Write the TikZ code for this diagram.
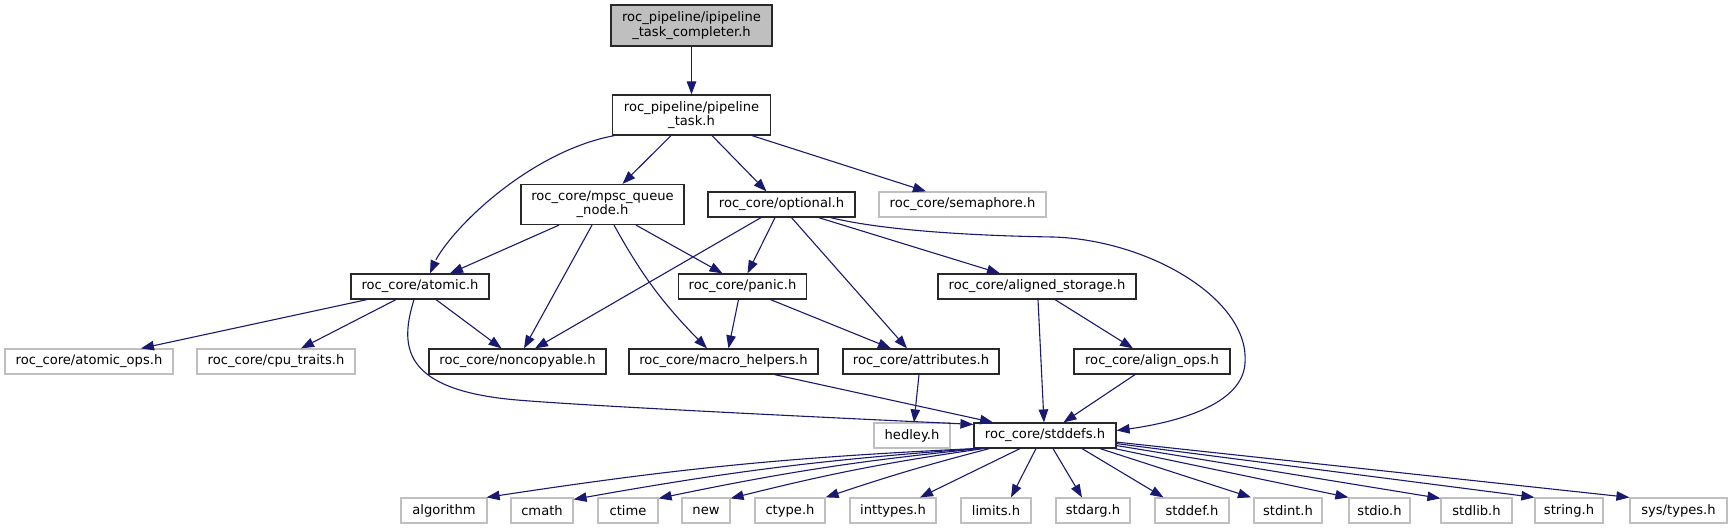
\documentclass[tikz,border=0pt]{standalone}
\usepackage{fontspec}
\setmainfont{DejaVu Sans}
\usetikzlibrary{arrows.meta,bending}
\definecolor{edgeblue}{RGB}{25,25,112}
\definecolor{lgray}{RGB}{191,191,191}
\definecolor{dgray}{RGB}{40,40,40}
\definecolor{topfill}{RGB}{191,191,191}
\newcommand{\nfont}{\fontsize{13.1}{14.2}\selectfont}
\begin{document}
\begin{tikzpicture}[x=1pt,y=-1pt,
  nb/.style={draw=dgray,line width=1.2pt,fill=white,inner sep=0pt,minimum height=25pt,align=center,font=\nfont,text=black},
  lb/.style={nb,draw=lgray},
  tb/.style={nb,fill=topfill,draw=dgray},
  dep/.style={draw=edgeblue,line width=1.1pt,-{Triangle[length=13pt,width=9.5pt]}}]
\useasboundingbox (0,0) rectangle (1732,529);

% nodes
\node[tb,minimum width=161pt,minimum height=41pt] (top) at (691.5,25.5) {roc\_pipeline/ipipeline\\\_task\_completer.h};
\node[nb,minimum width=158pt,minimum height=40pt] (pt) at (691.5,115) {roc\_pipeline/pipeline\\\_task.h};
\node[nb,minimum width=163pt,minimum height=40pt] (mpsc) at (602.5,204.5) {roc\_core/mpsc\_queue\\\_node.h};
\node[nb,minimum width=147pt] (opt) at (781.5,204.5) {roc\_core/optional.h};
\node[lb,minimum width=167pt] (sem) at (962.5,204.5) {roc\_core/semaphore.h};

\node[nb,minimum width=138pt] (atomic) at (420,286.5) {roc\_core/atomic.h};
\node[nb,minimum width=128pt] (panic) at (742.5,286.5) {roc\_core/panic.h};
\node[nb,minimum width=198pt] (alst) at (1037,286.5) {roc\_core/aligned\_storage.h};

\node[lb,minimum width=168pt] (aops) at (89,361.5) {roc\_core/atomic\_ops.h};
\node[lb,minimum width=158pt] (cpu) at (276,361.5) {roc\_core/cpu\_traits.h};
\node[nb,minimum width=177pt] (nonc) at (517.5,361.5) {roc\_core/noncopyable.h};
\node[nb,minimum width=189pt] (macro) at (723.5,361.5) {roc\_core/macro\_helpers.h};
\node[nb,minimum width=156pt] (attr) at (921,361.5) {roc\_core/attributes.h};
\node[nb,minimum width=156pt] (alops) at (1152,361.5) {roc\_core/align\_ops.h};

\node[lb,minimum width=76pt] (hedley) at (912,435.5) {hedley.h};
\node[nb,minimum width=142pt] (stddefs) at (1045,435.5) {roc\_core/stddefs.h};

\node[lb,minimum width=86pt] (algorithm) at (444,510.5) {algorithm};
\node[lb,minimum width=62pt] (cmath) at (542,510.5) {cmath};
\node[lb,minimum width=60pt] (ctime) at (628,510.5) {ctime};
\node[lb,minimum width=48pt] (new) at (706,510.5) {new};
\node[lb,minimum width=70pt] (ctype) at (790,510.5) {ctype.h};
\node[lb,minimum width=86pt] (inttypes) at (893,510.5) {inttypes.h};
\node[lb,minimum width=70pt] (limits) at (996,510.5) {limits.h};
\node[lb,minimum width=74pt] (stdarg) at (1093,510.5) {stdarg.h};
\node[lb,minimum width=74pt] (stddef) at (1192,510.5) {stddef.h};
\node[lb,minimum width=68pt] (stdint) at (1288,510.5) {stdint.h};
\node[lb,minimum width=61pt] (stdio) at (1379.5,510.5) {stdio.h};
\node[lb,minimum width=71pt] (stdlib) at (1476.5,510.5) {stdlib.h};
\node[lb,minimum width=68pt] (string) at (1569,510.5) {string.h};
\node[lb,minimum width=97pt] (systypes) at (1678.5,510.5) {sys/types.h};

% edges
\draw[dep] (top.south) -- (pt.north);
\draw[dep] ([xshift=-77pt]pt.south) .. controls (525,152) and (438,240) .. ([xshift=10pt]atomic.north);
\draw[dep] ([xshift=-20.5pt]pt.south) -- ([xshift=20pt]mpsc.north);
\draw[dep] ([xshift=20.5pt]pt.south) -- ([xshift=-15pt]opt.north);
\draw[dep] ([xshift=60.5pt]pt.south) -- ([xshift=-36.5pt]sem.north);

\draw[dep] ([xshift=-43.5pt]mpsc.south) -- ([xshift=30pt]atomic.north);
\draw[dep] ([xshift=-10.5pt]mpsc.south) -- ([xshift=6.5pt]nonc.north);
\draw[dep] ([xshift=11.5pt]mpsc.south) to[bend right=8] ([xshift=-16.5pt]macro.north);
\draw[dep] ([xshift=33.5pt]mpsc.south) -- ([xshift=-20pt]panic.north);

\draw[dep] ([xshift=-20.5pt]opt.south) -- ([xshift=17.5pt]nonc.north);
\draw[dep] ([xshift=-6.5pt]opt.south) -- ([xshift=5pt]panic.north);
\draw[dep] ([xshift=10pt]opt.south) -- ([xshift=-14pt]attr.north);
\draw[dep] ([xshift=37pt]opt.south) -- ([xshift=-37pt]alst.north);
\draw[dep] ([xshift=49pt]opt.south) .. controls (890,232) and (990,236) .. (1053,237)
  .. controls (1150,240) and (1250,300) .. (1245,363)
  .. controls (1243,400) and (1190,422) .. ([yshift=5pt]stddefs.east);

\draw[dep] ([xshift=-53pt]atomic.south) -- ([xshift=52pt]aops.north);
\draw[dep] ([xshift=-24pt]atomic.south) -- ([xshift=25pt]cpu.north);
\draw[dep] ([xshift=16pt]atomic.south) -- ([xshift=-16pt]nonc.north);
\draw[dep] ([xshift=-6pt]atomic.south) .. controls (400,345) and (400,390) .. (517,400)
  .. controls (600,407) and (880,420) .. ([yshift=-2pt]stddefs.north west);

\draw[dep] ([xshift=-4pt]panic.south) -- ([xshift=5pt]macro.north);
\draw[dep] ([xshift=28pt]panic.south) -- ([xshift=-30pt]attr.north);

\draw[dep] ([xshift=1pt]alst.south) -- ([xshift=-1pt]stddefs.north);
\draw[dep] ([xshift=18pt]alst.south) -- ([xshift=-19pt]alops.north);

\draw[dep] ([xshift=51pt]macro.south) -- ([xshift=-52pt]stddefs.north);
\draw[dep] ([xshift=-2pt]attr.south) -- ([xshift=2pt]hedley.north);
\draw[dep] ([xshift=-17pt]alops.south) -- ([xshift=18.5pt]stddefs.north);

\draw[dep] ([xshift=1pt]stddefs.south west) to[bend right=3] ([xshift=-1pt]algorithm.north east);
\draw[dep] ([xshift=3pt]stddefs.south west) to[bend right=3] ([yshift=-2pt]cmath.north east);
\draw[dep] ([xshift=6pt]stddefs.south west) to[bend right=3] ([yshift=-1pt]ctime.north east);
\draw[dep] ([xshift=10pt]stddefs.south west) to[bend right=3] ([yshift=-1pt]new.north east);
\draw[dep] ([xshift=16pt]stddefs.south west) to[bend right=2] (ctype.north east);
\draw[dep] ([xshift=-25pt]stddefs.south) -- ([xshift=27pt]inttypes.north);
\draw[dep] ([xshift=-9pt]stddefs.south) -- ([xshift=15pt]limits.north);
\draw[dep] ([xshift=8pt]stddefs.south) -- ([xshift=-11pt]stdarg.north);
\draw[dep] ([xshift=37pt]stddefs.south) -- ([xshift=-28.5pt]stddef.north);
\draw[dep] ([xshift=55pt]stddefs.south) -- ([xshift=-37pt]stdint.north);
\draw[dep] ([xshift=-2pt]stddefs.south east) -- (stdio.north west);
\draw[dep] ([yshift=3pt]stddefs.south east) -- ([yshift=-1pt]stdlib.north west);
\draw[dep] ([yshift=5pt]stddefs.south east) -- (string.north west);
\draw[dep] ([yshift=6.5pt]stddefs.south east) -- (systypes.north west);
\end{tikzpicture}
\end{document}
